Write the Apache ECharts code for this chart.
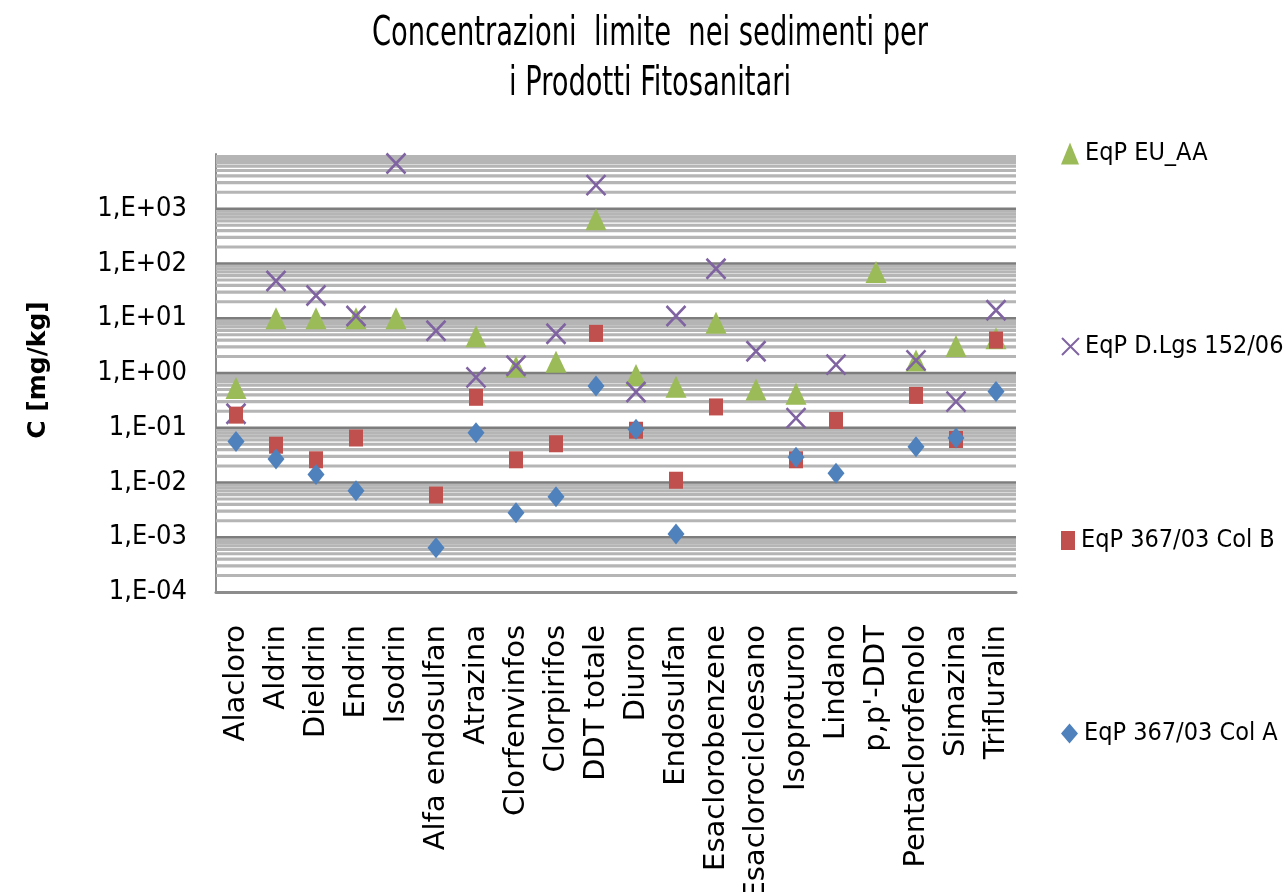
<!DOCTYPE html>
<html>
<head>
<meta charset="utf-8">
<script src="https://cdn.jsdelivr.net/npm/echarts@6/dist/echarts.min.js"></script>
<style>
  html, body { margin: 0; padding: 0; background: #ffffff; }
  #chart { width: 1284px; height: 892px; }
</style>
</head>
<body>
<div id="chart"></div>
<script>
// Prodotti fitosanitari (categorie sull'asse x)
const categories = ['Alacloro', 'Aldrin', 'Dieldrin', 'Endrin', 'Isodrin', 'Alfa endosulfan',
  'Atrazina', 'Clorfenvinfos', 'Clorpirifos', 'DDT totale', 'Diuron', 'Endosulfan',
  'Esaclorobenzene', 'Esaclorocicloesano', 'Isoproturon', 'Lindano', "p,p'-DDT",
  'Pentaclorofenolo', 'Simazina', 'Trifluralin'];

// Concentrazioni limite [mg/kg]; null = valore non disponibile
const eqpEuAA = [0.53, 10, 10, 10, 10, null, 4.7, 1.3, 1.6, 640, 0.92, 0.56, 8.3, 0.5, 0.42, null, 70, 1.7, 3.1, 4.3];
const eqpDlgs = [0.18, 48, 26, 11, 6700, 5.9, 0.83, 1.36, 5.2, 2700, 0.45, 11, 80, 2.5, 0.15, 1.42, null, 1.7, 0.3, 14];
const eqpColB = [0.17, 0.048, 0.026, 0.065, null, 0.0059, 0.36, 0.026, 0.051, 5.3, 0.09, 0.011, 0.24, null, 0.026, 0.136, null, 0.39, 0.061, 4];
const eqpColA = [0.056, 0.027, 0.014, 0.0071, null, 0.00064, 0.081, 0.0028, 0.0055, 0.58, 0.094, 0.00115, null, null, 0.029, 0.0147, null, 0.045, 0.065, 0.46];

const seriesNames = ['EqP EU_AA', 'EqP D.Lgs 152/06', 'EqP 367/03 Col B', 'EqP 367/03 Col A'];

// Decadi dell'asse logaritmico
const yMinExp = -4;
const yMaxExp = 4;

const COND = "'DejaVu Sans Condensed', 'DejaVu Sans', sans-serif";
const CROSS = 'path://M0,0L20,20M20,0L0,20';

function toPoints(values) {
  const pts = [];
  values.forEach((v, i) => { if (v !== null) pts.push([categories[i], v]); });
  return pts;
}

function expLabel(v) {
  const e = Math.round(Math.log10(v));
  if (e >= yMaxExp) return '';
  const a = Math.abs(e);
  return '1,E' + (e < 0 ? '-' : '+') + (a < 10 ? '0' + a : String(a));
}

// Griglia: linee secondarie (2..9 x 10^n, tipo 0) e principali (10^n, tipo 1)
const gridValues = [];
for (let e = yMinExp; e < yMaxExp; e++) {
  for (let m = 2; m <= 9; m++) gridValues.push([0, m * Math.pow(10, e), 0]);
}
for (let e = yMinExp + 1; e < yMaxExp; e++) gridValues.push([0, Math.pow(10, e), 1]);

function renderGridLine(params, api) {
  const cs = params.coordSys;
  const y = api.coord([api.value(0), api.value(1)])[1];
  const major = api.value(2) === 1;
  return {
    type: 'line',
    shape: { x1: cs.x, y1: y, x2: cs.x + cs.width, y2: y },
    style: { stroke: major ? '#7d7d7d' : '#b5b5b5', lineWidth: major ? 2.5 : 3.2 },
    silent: true
  };
}

const chart = echarts.init(document.getElementById('chart'), null, { renderer: 'canvas' });

const legendTops = [141, 334, 528, 721];
const legendIcons = [
  { w: 18, h: 22 },
  { w: 17, h: 20 },
  { w: 14, h: 19 },
  { w: 17, h: 20 }
];

chart.setOption({
  animation: false,
  backgroundColor: '#ffffff',
  legend: seriesNames.map((name, i) => ({
    data: [name],
    orient: 'vertical',
    left: 1061,
    top: legendTops[i],
    padding: 0,
    itemGap: 0,
    itemWidth: legendIcons[i].w,
    itemHeight: legendIcons[i].h,
    selectedMode: false,
    textStyle: { fontFamily: COND, fontSize: 25, color: '#000000', padding: [0, 0, 0, 1] }
  })),
  grid: { left: 216, right: 268, top: 154, bottom: 300, containLabel: false, outerBoundsMode: 'none' },
  xAxis: {
    type: 'category',
    data: categories,
    boundaryGap: true,
    axisLine: { show: true, lineStyle: { color: '#8c8c8c', width: 3 } },
    axisTick: { show: false },
    axisLabel: {
      interval: 0,
      rotate: 90,
      margin: 33,
      fontFamily: 'DejaVu Sans',
      fontSize: 29,
      color: '#000000',
      hideOverlap: false
    },
    splitLine: { show: false }
  },
  yAxis: {
    type: 'log',
    logBase: 10,
    min: Math.pow(10, yMinExp),
    max: Math.pow(10, yMaxExp),
    splitNumber: yMaxExp - yMinExp,
    axisLine: { show: true, lineStyle: { color: '#8c8c8c', width: 2 } },
    axisTick: { show: false },
    splitLine: { show: false },
    minorSplitLine: { show: false },
    axisLabel: {
      formatter: expLabel,
      margin: 29,
      fontFamily: COND,
      fontSize: 27,
      color: '#000000'
    }
  },
  graphic: [
    {
      type: 'text',
      x: 650,
      y: 10,
      scaleX: 0.76,
      style: {
        text: 'Concentrazioni  limite  nei sedimenti per\ni Prodotti Fitosanitari',
        font: '40px "DejaVu Sans Condensed"',
        fill: '#000000',
        textAlign: 'center',
        textVerticalAlign: 'top',
        lineHeight: 50
      }
    },
    {
      type: 'text',
      x: 38,
      y: 370,
      rotation: Math.PI / 2,
      style: {
        text: 'C [mg/kg]',
        font: 'bold 25px "DejaVu Sans"',
        fill: '#000000',
        textAlign: 'center',
        textVerticalAlign: 'middle'
      }
    }
  ],
  series: [
    {
      name: 'griglia',
      type: 'custom',
      silent: true,
      z: 1,
      clip: true,
      renderItem: renderGridLine,
      encode: { x: 0, y: 1 },
      data: gridValues
    },
    {
      name: seriesNames[0],
      type: 'scatter',
      z: 3,
      symbol: 'triangle',
      symbolSize: [21, 22],
      itemStyle: { color: '#9bbb59', opacity: 1 },
      data: toPoints(eqpEuAA)
    },
    {
      name: seriesNames[1],
      type: 'scatter',
      z: 4,
      symbol: CROSS,
      symbolSize: [19, 20],
      itemStyle: { color: 'rgba(0,0,0,0)', borderColor: '#8064a2', borderWidth: 2.6, opacity: 1 },
      data: toPoints(eqpDlgs)
    },
    {
      name: seriesNames[2],
      type: 'scatter',
      z: 5,
      symbol: 'rect',
      symbolSize: [14, 17],
      itemStyle: { color: '#c0504d', opacity: 1 },
      data: toPoints(eqpColB)
    },
    {
      name: seriesNames[3],
      type: 'scatter',
      z: 6,
      symbol: 'diamond',
      symbolSize: [17, 21],
      itemStyle: { color: '#4f81bd', opacity: 1 },
      data: toPoints(eqpColA)
    }
  ]
});
</script>
</body>
</html>
